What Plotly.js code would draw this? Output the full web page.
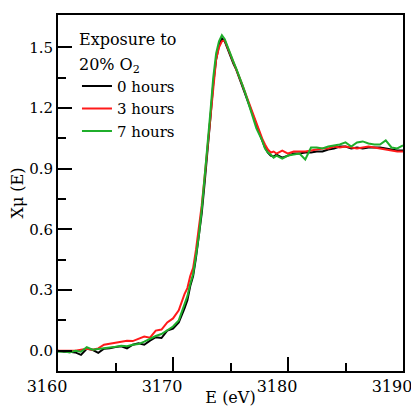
<!DOCTYPE html>
<html>
<head>
<meta charset="utf-8">
<script src="https://cdn.plot.ly/plotly-3.0.1.min.js"></script>
<style>
html,body{margin:0;padding:0;background:#fff}
#chart{width:411px;height:407px}
</style>
</head>
<body>
<div id="chart"></div>
<script>
var energy = [3160,3160.5,3161,3161.5,3162,3162.5,3163,3163.5,3164,3164.5,3165,3165.5,3166,3166.5,3167,3167.5,3168,3168.5,3169,3169.5,3170,3170.5,3171,3171.25,3171.5,3171.75,3172,3172.25,3172.5,3172.75,3173,3173.25,3173.5,3173.75,3174,3174.25,3174.5,3174.75,3175,3175.25,3175.5,3175.75,3176,3176.25,3176.5,3176.75,3177,3177.25,3177.5,3177.75,3178,3178.25,3178.5,3178.75,3179,3179.5,3180,3180.5,3181,3181.5,3182,3182.5,3183,3183.5,3184,3184.5,3185,3185.5,3186,3186.5,3187,3187.5,3188,3188.5,3189,3189.5,3190];

var hours0 = [0.0,-0.005,-0.005,-0.008,-0.02,0.01,0.005,-0.01,0.01,0.012,0.018,0.022,0.012,0.03,0.037,0.03,0.05,0.067,0.063,0.1,0.11,0.14,0.21,0.25,0.32,0.37,0.46,0.56,0.68,0.83,0.98,1.15,1.32,1.44,1.51,1.545,1.53,1.49,1.45,1.42,1.39,1.35,1.31,1.28,1.23,1.19,1.155,1.11,1.075,1.04,1.005,0.98,0.965,0.96,0.97,0.955,0.965,0.975,0.975,0.98,0.98,0.985,0.985,0.995,1.0,1.01,1.01,1.0,1.005,1.0,1.005,1.005,1.005,1.0,0.995,0.99,0.99];

var hours3 = [0.0,0.0,-0.003,0.0,0.005,0.01,0.005,0.012,0.03,0.035,0.04,0.042,0.05,0.048,0.06,0.07,0.065,0.1,0.105,0.14,0.16,0.2,0.28,0.31,0.37,0.41,0.5,0.6,0.72,0.86,1.01,1.17,1.32,1.44,1.5,1.53,1.535,1.5,1.46,1.43,1.39,1.36,1.32,1.28,1.24,1.2,1.16,1.12,1.085,1.05,1.02,0.995,0.98,0.985,0.975,0.99,0.975,0.985,0.985,0.985,0.99,0.995,1.0,1.0,1.01,1.005,1.01,1.005,1.0,1.005,1.01,1.005,1.0,0.995,0.99,0.985,0.985];

var hours7 = [-0.005,-0.003,-0.008,0.0,-0.005,0.018,0.005,0.008,0.013,0.015,0.02,0.025,0.022,0.03,0.033,0.045,0.06,0.073,0.083,0.1,0.12,0.15,0.23,0.27,0.33,0.38,0.47,0.57,0.7,0.85,1.0,1.18,1.35,1.47,1.53,1.56,1.54,1.5,1.46,1.43,1.395,1.36,1.32,1.28,1.235,1.195,1.15,1.1,1.07,1.04,1.0,0.98,0.97,0.955,0.965,0.95,0.965,0.97,0.975,0.946,1.005,1.005,1.0,1.01,1.015,1.02,1.03,1.01,1.03,1.035,1.025,1.02,1.02,1.04,1.005,1.0,1.015];

var seriesNames = ['0 hours','3 hours','7 hours'];
var seriesColors = ['#000000','#ff1a1a','#1fae2b'];
var seriesValues = [hours0, hours3, hours7];

var yTicks = [0, 0.3, 0.6, 0.9, 1.2, 1.5];
var yMinorTicks = [0.15, 0.45, 0.75, 1.05, 1.35];
var xTicks = [3160, 3170, 3180, 3190];
var xMinorTicks = [3165, 3175, 3185];

var traces = seriesValues.map(function(v, i){
  return {x: energy, y: v, type: 'scatter', mode: 'lines', name: seriesNames[i],
          line: {color: seriesColors[i], width: 2}};
});

var serif = 'DejaVu Serif';
var black = '#000';

var layout = {
  width: 411, height: 407,
  margin: {l: 58, r: 8, t: 15, b: 36},
  paper_bgcolor: '#fff', plot_bgcolor: '#fff',
  font: {family: serif, size: 15, color: black},
  showlegend: true,
  legend: {
    x: 0.055, y: 0.985, xanchor: 'left', yanchor: 'top',
    bgcolor: 'rgba(0,0,0,0)', borderwidth: 0,
    font: {family: serif, size: 15, color: black},
    title: {text: '<span style="font-size:16px">Exposure to<br>20% O<sub>2</sub></span>',
            font: {family: serif, size: 19, color: black}},
    tracegroupgap: 0
  },
  xaxis: {
    range: [3160, 3190], tickmode: 'array', tickvals: xTicks, ticktext: xTicks.map(String),
    ticks: 'inside', ticklen: 14, tickwidth: 2, tickcolor: black,
    showline: true, linewidth: 2, linecolor: black, mirror: true, showgrid: false, zeroline: false,
    ticklabeloverflow: 'allow', ticklabelshift: -11,
    tickfont: {family: serif, size: 16, color: black},
    minor: {tickmode: 'array', tickvals: xMinorTicks, ticks: 'inside', ticklen: 8, tickwidth: 2, tickcolor: black, showgrid: false},
    title: {text: 'E (eV)', font: {family: serif, size: 16, color: black}, standoff: 11}
  },
  yaxis: {
    range: [-0.1, 1.66], tickmode: 'array', tickvals: yTicks, ticktext: yTicks.map(function(t){return t.toFixed(1);}),
    ticks: 'inside', ticklen: 14, tickwidth: 2, tickcolor: black,
    showline: true, linewidth: 2, linecolor: black, mirror: true, showgrid: false, zeroline: false,
    tickfont: {family: serif, size: 15, color: black},
    minor: {tickmode: 'array', tickvals: yMinorTicks, ticks: 'inside', ticklen: 8, tickwidth: 2, tickcolor: black, showgrid: false},
    title: {text: 'Xμ (E)', font: {family: serif, size: 16, color: black}, standoff: 2}
  }
};

Plotly.newPlot('chart', traces, layout, {displayModeBar: false, staticPlot: true});
</script>
</body>
</html>
